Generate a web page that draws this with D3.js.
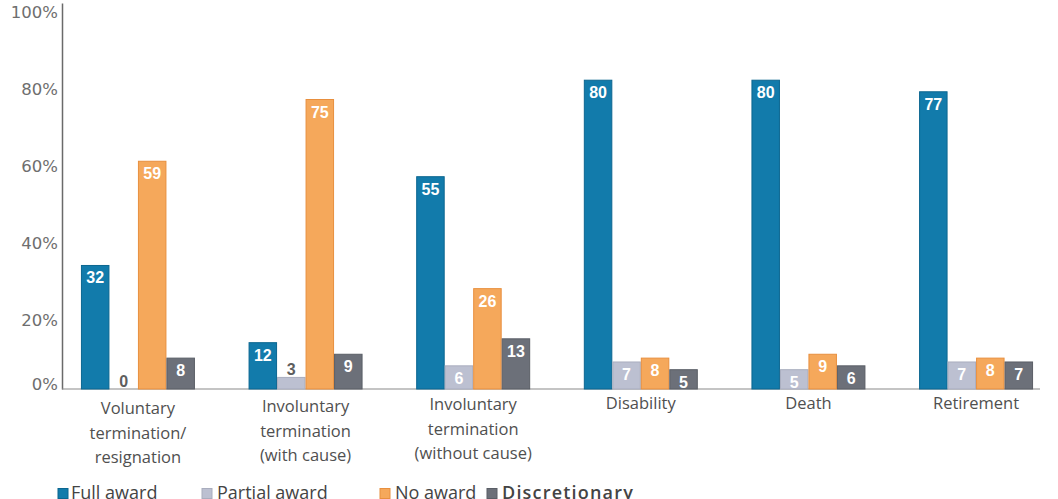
<!DOCTYPE html>
<html>
<head>
<meta charset="utf-8">
<script src="https://cdn.jsdelivr.net/npm/d3@7"></script>
<style>
  html, body { margin: 0; padding: 0; background: #fff; }
  svg { display: block; font-family: "Open Sans", "Noto Sans", sans-serif; }
</style>
</head>
<body>
<svg id="chart" width="1058" height="499"></svg>
<script>
// Award outcomes by reason for leaving, in percent
const categories = [
  ["Voluntary", "termination/", "resignation"],
  ["Involuntary", "termination", "(with cause)"],
  ["Involuntary", "termination", "(without cause)"],
  ["Disability"],
  ["Death"],
  ["Retirement"]
];
const seriesNames = ["Full award", "Partial award", "No award", "Discretionary"];
const fullAward     = [32, 12, 55, 80, 80, 77];
const partialAward  = [0, 3, 6, 7, 5, 7];
const noAward       = [59, 75, 26, 8, 9, 8];
const discretionary = [8, 9, 13, 5, 6, 7];
const yTicks = [0, 20, 40, 60, 80, 100];

const seriesValues = [fullAward, partialAward, noAward, discretionary];
const colors = ["#127bab", "#bcc0d1", "#f5a85b", "#6c7079"];
const strokes = ["#0b6690", "#a9adbe", "#e88f3e", "#5a5e66"];

const svg = d3.select("#chart");
const plotLeft = 62, plotRight = 1052, plotBase = 389, plotTop = 3;

const x0 = d3.scaleBand()
  .domain(d3.range(categories.length))
  .range([plotLeft, plotRight])
  .paddingInner(0.32)
  .paddingOuter(0.113);
const x1 = d3.scaleBand()
  .domain(d3.range(seriesNames.length))
  .range([0, x0.bandwidth()]);
const y = d3.scaleLinear().domain([0, 100]).range([plotBase, plotTop]);

// y axis: line plus percentage labels
const yAxis = svg.append("g")
  .attr("transform", `translate(${plotLeft},0)`)
  .call(d3.axisLeft(y).tickValues(yTicks).tickSize(0).tickPadding(4).tickFormat(d => d + "%"));
yAxis.select(".domain").attr("stroke", "#6a6a6a").attr("stroke-width", 1.5);
yAxis.selectAll("text")
  .attr("font-size", 16.5)
  .attr("fill", "#6e6e6e")
  .attr("font-family", "DejaVu Sans, sans-serif")
  .attr("dy", d => d === 0 ? "0.05em" : "0.85em");

// baseline
svg.append("line")
  .attr("x1", plotLeft).attr("x2", 1040)
  .attr("y1", plotBase).attr("y2", plotBase)
  .attr("stroke", "#8a8a8a").attr("stroke-width", 1.2);

// bars
const groups = svg.append("g").selectAll("g")
  .data(categories)
  .join("g")
  .attr("transform", (d, i) => `translate(${x0(i)},0)`);

groups.each(function(cat, ci) {
  const g = d3.select(this);
  seriesValues.forEach((vals, si) => {
    const v = vals[ci];
    if (v > 0) {
      g.append("rect")
        .attr("x", x1(si) + 0.5)
        .attr("y", y(v))
        .attr("width", x1.bandwidth() - 1)
        .attr("height", plotBase - y(v))
        .attr("fill", colors[si])
        .attr("stroke", strokes[si])
        .attr("stroke-width", 1);
    }
    const inside = v >= 5;
    g.append("text")
      .attr("x", x1(si) + x1.bandwidth() / 2)
      .attr("y", inside ? y(v) + 18 : y(v) - 2)
      .attr("text-anchor", "middle")
      .attr("font-family", "Liberation Sans, Arial, sans-serif")
      .attr("font-weight", "bold")
      .attr("font-size", 16)
      .attr("fill", inside ? "#ffffff" : "#5e5e5e")
      .text(v);
  });

  // category label
  const t = g.append("text")
    .attr("x", x0.bandwidth() / 2)
    .attr("y", ci < 3 ? 414 - ci * 2 : 409)
    .attr("text-anchor", "middle")
    .attr("font-size", 16.5)
    .attr("fill", "#505050");
  cat.forEach((line, li) => {
    t.append("tspan")
      .attr("x", x0.bandwidth() / 2)
      .attr("dy", li === 0 ? 0 : 24.5)
      .text(line);
  });
});

// legend
const legendX = [58, 202, 380, 487];
const legend = svg.append("g").selectAll("g")
  .data(seriesNames)
  .join("g")
  .attr("transform", (d, i) => `translate(${legendX[i]},0)`);
legend.append("rect")
  .attr("x", 0).attr("y", 488.5)
  .attr("width", 10).attr("height", 10)
  .attr("fill", (d, i) => colors[i])
  .attr("stroke", (d, i) => strokes[i]);
legend.append("text")
  .attr("x", (d, i) => i === 0 ? 13 : 15)
  .attr("y", 499)
  .attr("font-size", 18)
  .attr("font-weight", (d, i) => i === 3 ? 600 : 400)
  .attr("letter-spacing", (d, i) => i === 3 ? 1.2 : 0)
  .attr("fill", "#444")
  .text(d => d);
</script>
</body>
</html>
